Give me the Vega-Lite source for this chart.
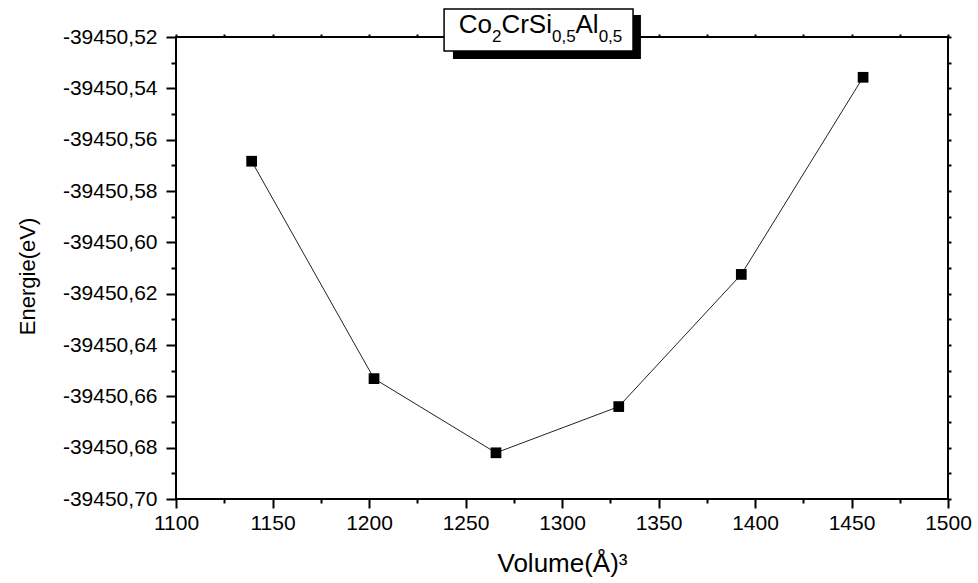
{
  "$schema": "https://vega.github.io/schema/vega-lite/v6.json",
  "width": 772,
  "height": 462,
  "autosize": {"type": "none"},
  "padding": {"left": 176, "top": 37, "right": 30, "bottom": 84},
  "background": "white",
  "config": {
    "locale": {"number": {"decimal": ",", "thousands": ".", "grouping": [3], "currency": ["", ""], "minus": "-"}},
    "view": {"stroke": "black", "strokeWidth": 2},
    "font": "Liberation Sans",
    "axis": {"grid": false, "domain": false, "tickColor": "black", "tickWidth": 2, "labelColor": "black", "titleColor": "black", "labelFont": "Liberation Sans", "titleFont": "Liberation Sans", "titleFontWeight": "normal"}
  },
  "data": {"values": [
    {"volume": 1139.2, "energie": -39450.5684},
    {"volume": 1202.6, "energie": -39450.6531},
    {"volume": 1265.8, "energie": -39450.6820},
    {"volume": 1329.4, "energie": -39450.6640},
    {"volume": 1392.9, "energie": -39450.6125},
    {"volume": 1456.0, "energie": -39450.5357}
  ]},
  "layer": [
    {
      "mark": {"type": "line", "color": "#222222", "strokeWidth": 1},
      "encoding": {
        "x": {"field": "volume", "type": "quantitative", "scale": {"domain": [1100, 1500], "nice": false, "zero": false},
          "axis": {"orient": "bottom", "title": "Volume(Å)³", "titleFontSize": 26, "titlePadding": 17, "labelFontSize": 21, "format": "d",
            "values": [1100,1125,1150,1175,1200,1225,1250,1275,1300,1325,1350,1375,1400,1425,1450,1475,1500],
            "labelExpr": "datum.value % 50 === 0 ? datum.label : ''",
            "tickSize": {"condition": {"test": "datum.value % 50 === 0", "value": 9}, "value": 4},
            "labelPadding": 4, "labelFlush": false, "labelOverlap": false}},
        "y": {"field": "energie", "type": "quantitative", "scale": {"domain": [-39450.70, -39450.52], "nice": false, "zero": false},
          "axis": {"orient": "left", "title": "Energie(eV)", "titleFontSize": 22, "titleX": -149, "titleY": 239, "titleBaseline": "middle", "titleAngle": -90, "labelFontSize": 21, "format": ".2f",
            "values": [-39450.70,-39450.69,-39450.68,-39450.67,-39450.66,-39450.65,-39450.64,-39450.63,-39450.62,-39450.61,-39450.60,-39450.59,-39450.58,-39450.57,-39450.56,-39450.55,-39450.54,-39450.53,-39450.52],
            "labelExpr": "abs(round(datum.value*100)) % 2 === 0 ? datum.label : ''",
            "tickSize": {"condition": {"test": "abs(round(datum.value*100)) % 2 === 0", "value": 10}, "value": 5},
            "labelPadding": 9, "labelFlush": false, "labelOverlap": false}}
      }
    },
    {
      "mark": {"type": "point", "shape": "square", "filled": true, "color": "black", "size": 115, "opacity": 1},
      "encoding": {
        "x": {"field": "volume", "type": "quantitative",
          "axis": {"orient": "top", "title": null, "labels": false, "tickSize": 3,
            "values": [1100,1125,1150,1175,1200,1225,1250,1275,1300,1325,1350,1375,1400,1425,1450,1475,1500]}},
        "y": {"field": "energie", "type": "quantitative",
          "axis": {"orient": "right", "title": null, "labels": false, "tickSize": 3,
            "values": [-39450.70,-39450.69,-39450.68,-39450.67,-39450.66,-39450.65,-39450.64,-39450.63,-39450.62,-39450.61,-39450.60,-39450.59,-39450.58,-39450.57,-39450.56,-39450.55,-39450.54,-39450.53,-39450.52]}}
      }
    },
    {
      "data": {"values": [{}]},
      "mark": {"type": "rect", "color": "black"},
      "encoding": {
        "x": {"datum": 1243.5, "type": "quantitative", "axis": null},
        "x2": {"datum": 1340.9},
        "y": {"datum": -39450.51143, "type": "quantitative", "axis": null},
        "y2": {"datum": -39450.52857}
      }
    },
    {
      "data": {"values": [{}]},
      "mark": {"type": "rect", "fill": "white", "stroke": "black", "strokeWidth": 1.5},
      "encoding": {
        "x": {"datum": 1238.9, "type": "quantitative", "axis": null},
        "x2": {"datum": 1336.8},
        "y": {"datum": -39450.50909, "type": "quantitative", "axis": null},
        "y2": {"datum": -39450.52545}
      }
    },
    {
      "data": {"values": [{}]},
      "mark": {"type": "text", "text": "Co", "fontSize": 26, "align": "left", "baseline": "alphabetic", "color": "black"},
      "encoding": {"x": {"datum": 1246.5, "type": "quantitative", "axis": null}, "y": {"datum": -39450.51856, "type": "quantitative", "axis": null}}
    },
    {
      "data": {"values": [{}]},
      "mark": {"type": "text", "text": "2", "fontSize": 17, "align": "left", "baseline": "alphabetic", "color": "black"},
      "encoding": {"x": {"datum": 1263.7, "type": "quantitative", "axis": null}, "y": {"datum": -39450.52195, "type": "quantitative", "axis": null}}
    },
    {
      "data": {"values": [{}]},
      "mark": {"type": "text", "text": "CrSi", "fontSize": 26, "align": "left", "baseline": "alphabetic", "color": "black"},
      "encoding": {"x": {"datum": 1268.6, "type": "quantitative", "axis": null}, "y": {"datum": -39450.51856, "type": "quantitative", "axis": null}}
    },
    {
      "data": {"values": [{}]},
      "mark": {"type": "text", "text": "0,5", "fontSize": 17, "align": "left", "baseline": "alphabetic", "color": "black"},
      "encoding": {"x": {"datum": 1294.8, "type": "quantitative", "axis": null}, "y": {"datum": -39450.52195, "type": "quantitative", "axis": null}}
    },
    {
      "data": {"values": [{}]},
      "mark": {"type": "text", "text": "Al", "fontSize": 26, "align": "left", "baseline": "alphabetic", "color": "black"},
      "encoding": {"x": {"datum": 1307.0, "type": "quantitative", "axis": null}, "y": {"datum": -39450.51856, "type": "quantitative", "axis": null}}
    },
    {
      "data": {"values": [{}]},
      "mark": {"type": "text", "text": "0,5", "fontSize": 17, "align": "left", "baseline": "alphabetic", "color": "black"},
      "encoding": {"x": {"datum": 1319.0, "type": "quantitative", "axis": null}, "y": {"datum": -39450.52195, "type": "quantitative", "axis": null}}
    }
  ],
  "resolve": {"axis": {"x": "independent", "y": "independent"}}
}
